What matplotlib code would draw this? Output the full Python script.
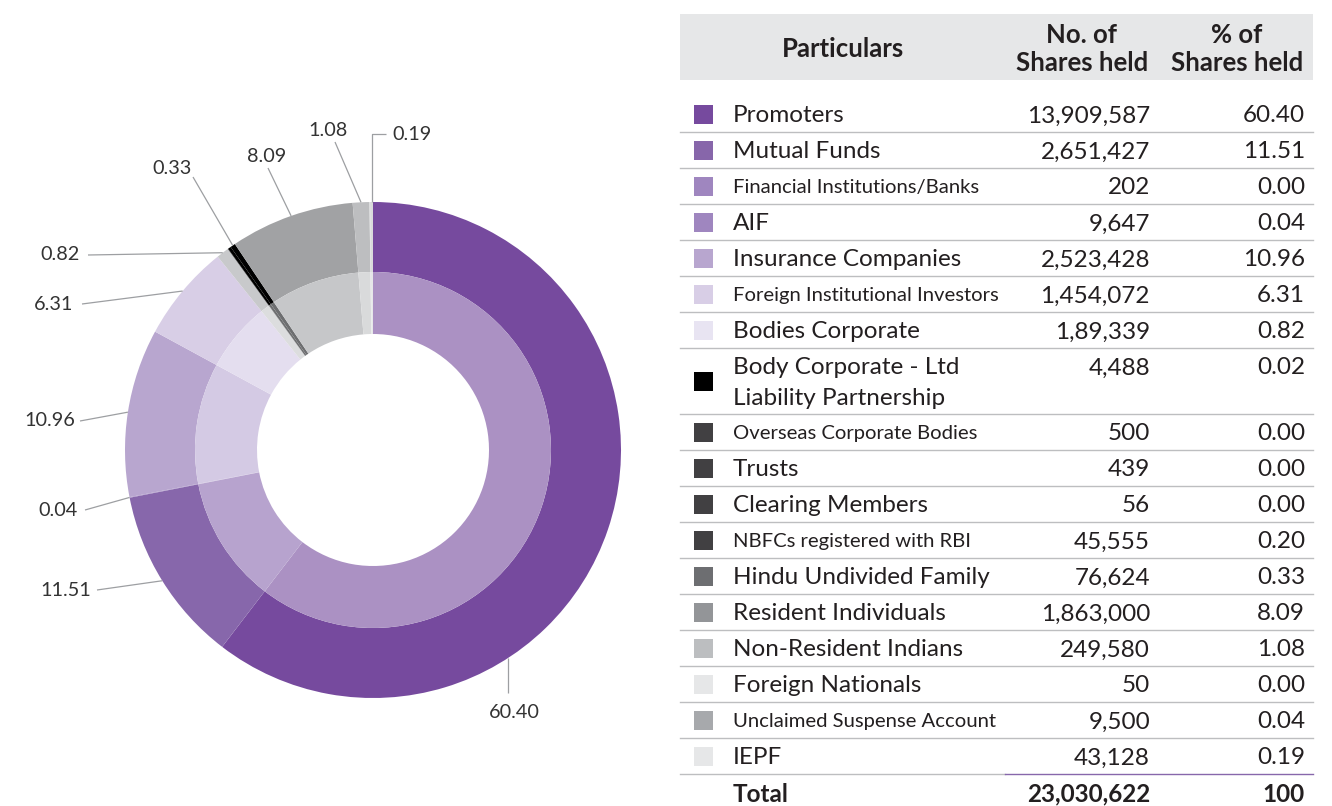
import matplotlib
matplotlib.use("Agg")
import matplotlib.pyplot as plt
import matplotlib.font_manager as fm
import numpy as np

# ---------- data ----------
categories = ["Promoters", "Mutual Funds", "Financial Institutions/Banks", "AIF",
              "Insurance Companies", "Foreign Institutional Investors", "Bodies Corporate",
              "Body Corporate - Ltd\nLiability Partnership", "Overseas Corporate Bodies",
              "Trusts", "Clearing Members", "NBFCs registered with RBI",
              "Hindu Undivided Family", "Resident Individuals", "Non-Resident Indians",
              "Foreign Nationals", "Unclaimed Suspense Account", "IEPF"]
shares_text = ["13,909,587", "2,651,427", "202", "9,647", "2,523,428", "1,454,072",
               "1,89,339", "4,488", "500", "439", "56", "45,555", "76,624",
               "1,863,000", "249,580", "50", "9,500", "43,128"]
pct = [60.40, 11.51, 0.00, 0.04, 10.96, 6.31, 0.82, 0.02, 0.00, 0.00, 0.00, 0.20,
       0.33, 8.09, 1.08, 0.00, 0.04, 0.19]
total_shares = "23,030,622"
total_pct = "100"

# slices that get a value label on the donut
labelled = [0, 1, 3, 4, 5, 6, 12, 13, 14, 17]

# ---------- style ----------
outer_colors = ["#764A9E", "#8767AB", "#9F86BF", "#9F86BF", "#B8A6CF", "#D8CEE6",
                "#C8C9CB", "#000000", "#000000", "#000000", "#000000", "#000000",
                "#000000", "#A1A2A4", "#BDBEC0", "#D9DADB", "#D9DADB", "#D9DADB"]
inner_colors = ["#AB91C3", "#B7A3CE", "#C3B3D8", "#C3B3D8", "#D4CAE4", "#E4DEEF",
                "#DCDDDE", "#6D6E70", "#6D6E70", "#6D6E70", "#6D6E70", "#6D6E70",
                "#6D6E70", "#C6C7C9", "#D9DADB", "#E6E7E8", "#E6E7E8", "#E6E7E8"]
square_colors = ["#764A9E", "#8766AA", "#9F86BF", "#9F86BF", "#B8A6CF", "#D8CEE6",
                 "#E8E4F2", "#000000", "#414042", "#414042", "#414042", "#414042",
                 "#6D6E71", "#939598", "#BCBEC0", "#E6E7E8", "#A7A9AC", "#E6E7E8"]
narrow = [False, False, True, False, False, True, False, False, True, False, False,
          True, False, False, False, False, True, False]


def has_font(name):
    try:
        fm.findfont(fm.FontProperties(family=name), fallback_to_default=False)
        return True
    except Exception:
        return False


main_font = "Lato" if has_font("Lato") else "DejaVu Sans"
plt.rcParams["font.family"] = [main_font, "DejaVu Sans"]
TXT = "#231F20"
FS = 17.5
W, H = 1332, 806


def Y(y):
    # pixel row from the top -> data y
    return H - y


fig = plt.figure(figsize=(W / 100, H / 100), dpi=100)
ax = fig.add_axes([0, 0, 1, 1])

# ---------- donut ----------
cx, cy = 373, 450
r_out, r_mid, r_in = 248, 178, 116
wedges, _ = ax.pie(pct, radius=r_out, center=(cx, Y(cy)), startangle=90,
                   counterclock=False, colors=outer_colors,
                   wedgeprops=dict(width=r_out - r_mid, linewidth=0))
ax.pie(pct, radius=r_mid, center=(cx, Y(cy)), startangle=90, counterclock=False,
       colors=inner_colors, wedgeprops=dict(width=r_mid - r_in, linewidth=0))

# label layout: (text x, text y, ha, line start x, line start y, where in slice)
label_layout = {
    0: (None, 712, "center", None, 693, 0.676),
    1: (91, 590, "right", 97, 590, 0.5),
    3: (78, 510, "right", 85, 510, 0.5),
    4: (75, 421, "right", 80, 421, 0.5),
    5: (73, 304, "right", 82, 304, 0.5),
    6: (80, 255, "right", 88, 255, 0.5),
    12: (172, 169, "center", 193, 177, 0.5),
    13: (267, 156, "center", 268, 168, 0.5),
    14: (328, 131, "center", 335, 142, 0.5),
    17: (392, 134, "left", 386, 134, 0.5),
}
line_col = "#9D9FA2"
for i in labelled:
    tx, ty, ha, lx, ly, frac = label_layout[i]
    w = wedges[i]
    ang = np.deg2rad(w.theta2 - frac * (w.theta2 - w.theta1))
    ex = cx + r_out * np.cos(ang)
    ey = Y(cy) + r_out * np.sin(ang)
    if i == 0:
        lx = ex
        tx = ex + 6
    if i == 17:
        xs, ys = [lx, ex, ex], [Y(ly), Y(ly), ey]
    else:
        xs, ys = [lx, ex], [Y(ly), ey]
    ax.plot(xs, ys, color=line_col, lw=0.9, solid_capstyle="butt")
    ax.text(tx, Y(ty), f"{pct[i]:.2f}", ha=ha, va="center", fontsize=14.3,
            color="#333333")

# ---------- table ----------
tx0, tx1 = 680, 1313
ax.fill_between([tx0, tx1], Y(14), Y(80), color="#E6E7E8", lw=0)
hdr = dict(fontsize=18.5, fontweight="bold", color=TXT, va="center")
ax.text(843, Y(49), "Particulars", ha="center", **hdr)
ax.text(1082, Y(49), "No. of\nShares held", ha="center", multialignment="center",
        linespacing=1.2, **hdr)
ax.text(1237, Y(49), "% of\nShares held", ha="center", multialignment="center",
        linespacing=1.2, **hdr)

row_h = [66 if "\n" in c else 36 for c in categories]
top = 96
dy = 2  # small baseline nudge
for i, cat in enumerate(categories):
    h = row_h[i]
    mid = top + h / 2
    first = top + 18
    ax.add_patch(plt.Rectangle((694, Y(mid) - 9.5), 19, 19, color=square_colors[i], lw=0))
    if narrow[i]:
        ax.text(733, Y(mid + dy), cat, ha="left", va="center", fontsize=14.6,
                color=TXT)
    else:
        ax.text(733, Y(mid + dy), cat, ha="left", va="center", fontsize=FS, color=TXT,
                linespacing=1.55)
    ax.text(1150, Y(first + dy), shares_text[i], ha="right", va="center", fontsize=FS,
            color=TXT)
    ax.text(1305, Y(first + dy), f"{pct[i]:.2f}", ha="right", va="center", fontsize=FS,
            color=TXT)
    top += h
    if i < len(categories) - 1:
        ax.plot([tx0, tx1], [Y(top), Y(top)], color="#BDBEC0", lw=1.0)
    else:
        ax.plot([tx0, 1005], [Y(top), Y(top)], color="#BDBEC0", lw=1.0)
        ax.plot([1005, tx1], [Y(top), Y(top)], color="#8767AB", lw=1.0)

tot_y = top + 18 + dy
ax.text(733, Y(tot_y), "Total", ha="left", va="center", fontsize=FS,
        fontweight="bold", color=TXT)
ax.text(1150, Y(tot_y), total_shares, ha="right", va="center", fontsize=FS,
        fontweight="bold", color=TXT)
ax.text(1305, Y(tot_y), total_pct, ha="right", va="center", fontsize=FS,
        fontweight="bold", color=TXT)

ax.set_xlim(0, W)
ax.set_ylim(0, H)
ax.set_aspect("auto")
ax.axis("off")
fig.savefig("out.png", dpi=100)
